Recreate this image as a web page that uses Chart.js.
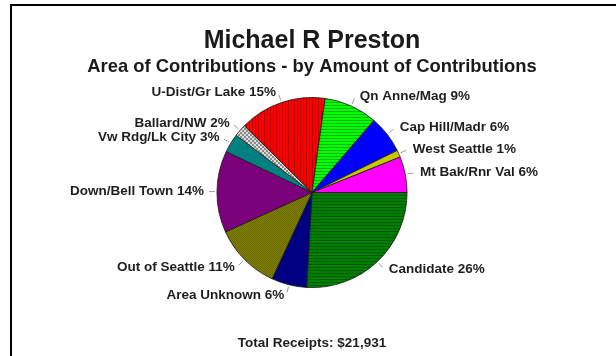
<!DOCTYPE html>
<html>
<head>
<meta charset="utf-8">
<title>Michael R Preston - Area of Contributions</title>
<script src="https://cdn.jsdelivr.net/npm/chart.js@4.4.1/dist/chart.umd.min.js"></script>
<style>
    html, body { margin: 0; padding: 0; background: #fff; }
    #wrap { position: relative; width: 616px; height: 356px; overflow: hidden; }
    /* frame lines, only top and left are visible in the original */
    #frame {
        position: absolute; left: 10px; top: 4px; right: -10px; bottom: -10px;
        border-left: 2px solid #000; border-top: 2px solid #000;
    }
    #chartCanvas { position: absolute; left: 0; top: 0; }
</style>
</head>
<body>
<div id="wrap">
    <div id="frame"></div>
    <canvas id="chartCanvas"></canvas>
</div>
<script>
// Regions, clockwise from 3 o'clock
const regions = [
    'Candidate',
    'Area Unknown',
    'Out of Seattle',
    'Down/Bell Town',
    'Vw Rdg/Lk City',
    'Ballard/NW',
    'U-Dist/Gr Lake',
    'Qn Anne/Mag',
    'Cap Hill/Madr',
    'West Seattle',
    'Mt Bak/Rnr Val'
];

// Share of receipts (%)
const shares = [25.9, 6.0, 11.3, 13.9, 3.2, 2.1, 14.8, 9.1, 6.4, 1.2, 6.1];

const chartTitle = 'Michael R Preston';
const chartSubtitle = 'Area of Contributions - by Amount of Contributions';
const totalReceipts = 21931;

const FONT = '"Liberation Sans", Arial, Helvetica, sans-serif';

/**
 * Build a small repeating fill pattern
 * @param {string} base - background colour
 * @param {string} ink - stripe / dot colour
 * @param {string} kind - 'h', 'v', 'check', 'dither'
 */
function makePattern(base, ink, kind) {
    const size = kind === 'check' ? 4 : (kind === 'dither' ? 2 : 3);
    const c = document.createElement('canvas');
    c.width = size;
    c.height = size;
    const g = c.getContext('2d');
    g.fillStyle = base;
    g.fillRect(0, 0, size, size);
    g.fillStyle = ink;
    if (kind === 'h') {
        g.fillRect(0, 0, size, 1);
    } else if (kind === 'v') {
        g.fillRect(0, 0, 1, size);
    } else if (kind === 'check') {
        g.fillRect(0, 0, 2, 2);
        g.fillRect(2, 2, 2, 2);
    } else if (kind === 'dither') {
        g.fillRect(0, 0, 1, 1);
        g.fillRect(1, 1, 1, 1);
    }
    return g.createPattern(c, 'repeat');
}

const sliceFills = [
    makePattern('#008000', '#005a00', 'h'),     // Candidate
    '#000080',                                  // Area Unknown
    makePattern('#808000', '#6a6a00', 'dither'),// Out of Seattle
    makePattern('#800080', '#760076', 'dither'),// Down/Bell Town
    '#008080',                                  // Vw Rdg/Lk City
    makePattern('#dcdcdc', '#8a8a8a', 'check'), // Ballard/NW
    makePattern('#ff0000', '#b80000', 'v'),     // U-Dist/Gr Lake
    makePattern('#00ff00', '#00b400', 'h'),     // Qn Anne/Mag
    '#0000ff',                                  // Cap Hill/Madr
    '#c8c800',                                  // West Seattle
    '#ff00ff'                                   // Mt Bak/Rnr Val
];

// Labels outside the pie with short leader lines, plus the footer line
const outsideLabels = {
    id: 'outsideLabels',
    afterDatasetsDraw(chart) {
        const ctx = chart.ctx;
        const meta = chart.getDatasetMeta(0);
        const values = chart.data.datasets[0].data;
        const sum = values.reduce((a, b) => a + b, 0);

        ctx.save();
        ctx.font = 'bold 13.5px ' + FONT;
        ctx.textBaseline = 'middle';

        meta.data.forEach((arc, i) => {
            const p = arc.getProps(['x', 'y', 'startAngle', 'endAngle', 'outerRadius'], true);
            const mid = (p.startAngle + p.endAngle) / 2;
            const cos = Math.cos(mid);
            const sin = Math.sin(mid);

            ctx.strokeStyle = '#9a9a9a';
            ctx.lineWidth = 1;
            ctx.beginPath();
            ctx.moveTo(p.x + cos * (p.outerRadius + 2), p.y + sin * (p.outerRadius + 2));
            ctx.lineTo(p.x + cos * (p.outerRadius + 8), p.y + sin * (p.outerRadius + 8));
            ctx.stroke();

            const ax = p.x + cos * (p.outerRadius + 11);
            const ay = p.y + sin * (p.outerRadius + 11);
            const pct = Math.round(values[i] / sum * 100);
            ctx.fillStyle = '#1e1e1e';
            ctx.textAlign = cos >= 0 ? 'left' : 'right';
            ctx.fillText(`${chart.data.labels[i]} ${pct}%`, ax + (cos >= 0 ? 4 : -2), ay);
        });

        // footer
        const area = chart.chartArea;
        ctx.textAlign = 'center';
        ctx.fillText('Total Receipts: $' + totalReceipts.toLocaleString('en-US'),
            (area.left + area.right) / 2, 343);
        ctx.restore();
    }
};

function createChart() {
    const canvas = document.getElementById('chartCanvas');
    if (!canvas) {
        console.error('chart canvas not found');
        return;
    }

    const chartConfig = {
        type: 'pie',
        data: {
            labels: regions,
            datasets: [{
                data: shares,
                backgroundColor: sliceFills,
                borderColor: '#1a1a1a',
                borderWidth: 0.8,
                hoverOffset: 0,
                offset: 0
            }]
        },
        options: {
            responsive: true,
            maintainAspectRatio: false,
            animation: false,
            events: [],
            rotation: 90,
            layout: {
                padding: { top: 0, bottom: 68, left: 8, right: 0 }
            },
            plugins: {
                legend: { display: false },
                tooltip: { enabled: false },
                title: {
                    display: true,
                    text: chartTitle,
                    color: '#1a1a1a',
                    font: { family: FONT, size: 25, weight: 'bold', lineHeight: 1.2 },
                    padding: { top: 26, bottom: 0 }
                },
                subtitle: {
                    display: true,
                    text: chartSubtitle,
                    color: '#1a1a1a',
                    font: { family: FONT, size: 18.4, weight: 'bold', lineHeight: 1.2 },
                    padding: { top: 0, bottom: 19 }
                }
            }
        },
        plugins: [outsideLabels]
    };

    new Chart(canvas, chartConfig);
}

createChart();
</script>
</body>
</html>
